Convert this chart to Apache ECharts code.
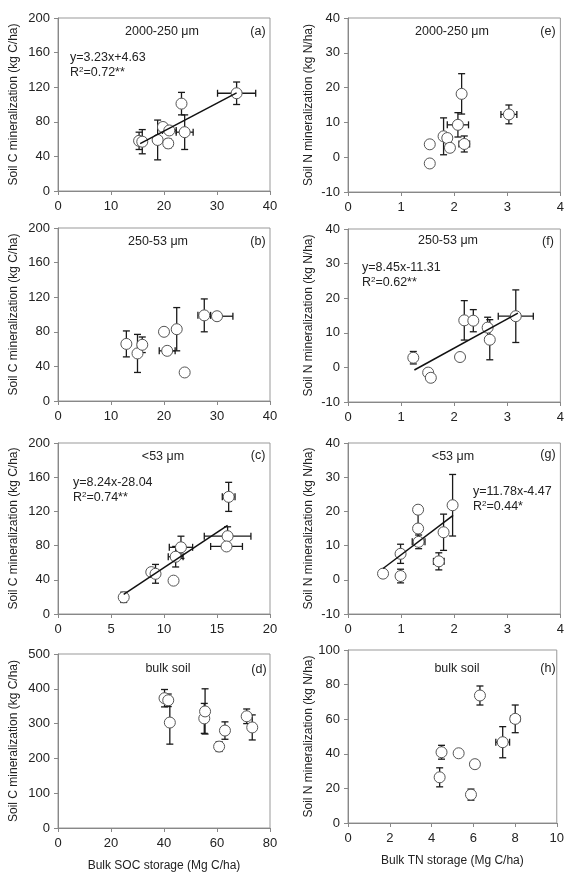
<!DOCTYPE html>
<html>
<head>
<meta charset="utf-8">
<script src="https://cdn.jsdelivr.net/npm/echarts@6/dist/echarts.min.js"></script>
<style>
  html, body { margin: 0; padding: 0; background: #fff; }
  #chart { width: 567px; height: 877px; }
</style>
</head>
<body>
<div id="chart"></div>
<script>
// ---- data: [x], [y], [x error], [y error] ----
// (a) 2000-250 um, SOC
const aX = [15.3, 15.9, 18.8, 19.8, 20.8, 21.0, 23.3, 23.9, 33.7];
const aY = [58, 57, 59, 74, 55, 70, 101, 68, 113];
const aXErr = [0, 0, 0, 0, 0.8, 1.3, 0, 1.6, 3.6];
const aYErr = [10, 14, 23, 0, 5, 4, 13, 20, 13];
const aFit = [[15.5, 54.7], [33.7, 113.5]];

// (b) 250-53 um, SOC
const bX = [12.9, 15.0, 15.9, 20.0, 20.6, 22.4, 23.9, 27.6, 30.0];
const bY = [66, 55, 65, 80, 58, 83, 33, 99, 98];
const bXErr = [0, 0, 0.5, 0, 1.5, 0, 0, 1.2, 3.0];
const bYErr = [15, 22, 9, 0, 0, 25, 0, 19, 0];

// (c) <53 um, SOC
const cX = [6.2, 8.8, 9.2, 10.9, 11.1, 11.6, 16.0, 15.9, 16.1];
const cY = [19.5, 49, 47, 39, 67, 78, 91, 79, 137];
const cXErr = [0.3, 0, 0, 0, 0.7, 1.1, 2.2, 1.5, 0.6];
const cYErr = [6, 0, 11, 0, 12, 13, 11, 0, 17];
const cFit = [[6.2, 23.0], [16.0, 103.8]];

// (d) bulk soil, SOC
const dX = [40.2, 41.6, 42.2, 55.2, 55.5, 60.8, 63.0, 71.2, 73.3];
const dY = [373, 367, 303, 315, 335, 234, 280, 321, 289];
const dXErr = [0, 1.3, 0, 0, 0, 0, 0, 0, 0];
const dYErr = [25, 18, 62, 43, 65, 14, 25, 21, 36];

// (e) 2000-250 um, TN
const eX = [1.54, 1.54, 1.80, 1.87, 1.92, 2.07, 2.14, 2.19, 3.03];
const eY = [3.7, -1.8, 6.0, 5.5, 2.7, 9.3, 18.2, 3.8, 12.3];
const eXErr = [0, 0, 0, 0, 0.05, 0.2, 0.05, 0.1, 0.15];
const eYErr = [0, 0, 5.3, 0, 0, 3.5, 5.8, 2.3, 2.7];

// (f) 250-53 um, TN
const fX = [1.23, 1.51, 1.56, 2.11, 2.19, 2.36, 2.63, 2.67, 3.16];
const fY = [2.8, -1.5, -3.0, 3.0, 13.6, 13.5, 11.5, 8.0, 14.8];
const fXErr = [0, 0, 0, 0, 0.05, 0, 0, 0, 0.33];
const fYErr = [1.8, 0, 0, 0, 5.7, 3.2, 3.0, 5.8, 7.6];
const fFit = [[1.25, -0.75], [3.2, 15.7]];

// (g) <53 um, TN
const gX = [0.66, 0.99, 0.99, 1.32, 1.32, 1.33, 1.71, 1.80, 1.97];
const gY = [1.8, 1.1, 7.6, 20.5, 15.0, 11.1, 5.4, 13.9, 21.8];
const gXErr = [0, 0, 0, 0, 0, 0.12, 0.1, 0, 0.03];
const gYErr = [0, 2.0, 2.8, 0, 5, 2, 2.5, 5.3, 9];
const gFit = [[0.66, 3.3], [1.98, 18.85]];

// (h) bulk soil, TN
const hX = [4.39, 4.48, 5.30, 5.89, 6.08, 6.32, 7.41, 8.01];
const hY = [26.4, 40.9, 40.3, 16.4, 34.0, 73.7, 46.7, 60.2];
const hXErr = [0, 0, 0.1, 0, 0, 0, 0.33, 0.22];
const hYErr = [5.5, 4, 0, 3.2, 0, 5.5, 9, 8];

// axis ranges [min, max, interval]
const xRanges = [[0, 40, 10], [0, 40, 10], [0, 20, 5], [0, 80, 20], [0, 4, 1], [0, 4, 1], [0, 4, 1], [0, 10, 2]];
const yRanges = [[0, 200, 40], [0, 200, 40], [0, 200, 40], [0, 500, 100], [-10, 40, 10], [-10, 40, 10], [-10, 40, 10], [0, 100, 20]];

const panelLetters = ["(a)", "(b)", "(c)", "(d)", "(e)", "(f)", "(g)", "(h)"];
const fractionNames = ["2000-250 \u03bcm", "250-53 \u03bcm", "<53 \u03bcm", "bulk soil",
                       "2000-250 \u03bcm", "250-53 \u03bcm", "<53 \u03bcm", "bulk soil"];
const equations = [["y=3.23x+4.63", "0.72**"], null, ["y=8.24x-28.04", "0.74**"], null,
                   null, ["y=8.45x-11.31", "0.62**"], ["y=11.78x-4.47", "0.44*"], null];

const yTitleC = "Soil C mineralization (kg C/ha)";
const yTitleN = "Soil N mineralization (kg N/ha)";
const xTitleC = "Bulk SOC storage (Mg C/ha)";
const xTitleN = "Bulk TN storage (Mg C/ha)";

const panels = [
  [aX, aY, aXErr, aYErr, aFit],
  [bX, bY, bXErr, bYErr, null],
  [cX, cY, cXErr, cYErr, cFit],
  [dX, dY, dXErr, dYErr, null],
  [eX, eY, eXErr, eYErr, null],
  [fX, fY, fXErr, fYErr, fFit],
  [gX, gY, gXErr, gYErr, gFit],
  [hX, hY, hXErr, hYErr, null]
];

// ---- layout ----
const FONT = "'Liberation Sans', Arial, sans-serif";
const TXT = "#222";
const grids = [
  { left: 58, top: 18, width: 212, height: 173 },
  { left: 58, top: 228, width: 212, height: 173 },
  { left: 58, top: 443, width: 212, height: 171 },
  { left: 58, top: 654, width: 212, height: 174 },
  { left: 348, top: 18, width: 214, height: 174 },
  { left: 348, top: 229, width: 214, height: 173 },
  { left: 348, top: 443, width: 214, height: 171 },
  { left: 348, top: 650, width: 214, height: 173 }
];
// label anchor points per panel: fraction name, letter, equation (left, top line y)
const namePos = [[162, 32], [158, 242], [163, 457], [168, 669], [452, 32], [448, 241], [453, 457], [457, 669]];
const letterPos = [[258, 32], [258, 242], [258, 456], [259, 670], [548, 32], [548, 242], [548, 455], [548, 669]];
const eqPos = [[70, 58], null, [73, 483], null, null, [362, 268], [473, 492], null];

const chart = echarts.init(document.getElementById("chart"));

function errorBars(params, api) {
  const x = api.value(0), y = api.value(1), ex = api.value(2), ey = api.value(3);
  const style = { stroke: "#1a1a1a", lineWidth: 1.3 };
  const cap = 3.5;
  const kids = [];
  const seg = (x1, y1, x2, y2) => kids.push({ type: "line", shape: { x1, y1, x2, y2 }, style });
  if (ey > 0) {
    const lo = api.coord([x, y - ey]), hi = api.coord([x, y + ey]);
    seg(lo[0], lo[1], hi[0], hi[1]);
    seg(lo[0] - cap, lo[1], lo[0] + cap, lo[1]);
    seg(hi[0] - cap, hi[1], hi[0] + cap, hi[1]);
  }
  if (ex > 0) {
    const l = api.coord([x - ex, y]), r = api.coord([x + ex, y]);
    seg(l[0], l[1], r[0], r[1]);
    seg(l[0], l[1] - cap, l[0], l[1] + cap);
    seg(r[0], r[1] - cap, r[0], r[1] + cap);
  }
  return { type: "group", children: kids };
}

const xAxis = [], yAxis = [], series = [], graphic = [];

panels.forEach((p, i) => {
  const [xs, ys, xe, ye, fit] = p;
  const isBottom = i === 3 || i === 7;
  const isLeft = i < 4;
  xAxis.push({
    type: "value", gridIndex: i,
    min: xRanges[i][0], max: xRanges[i][1], interval: xRanges[i][2],
    name: isBottom ? (isLeft ? xTitleC : xTitleN) : "",
    nameLocation: "middle", nameGap: 32,
    nameTextStyle: { fontFamily: FONT, fontSize: 12, color: TXT },
    axisLine: { onZero: false, lineStyle: { color: "#888" } },
    axisTick: { show: true, length: 4, lineStyle: { color: "#888" } },
    axisLabel: { fontFamily: FONT, fontSize: 13, color: TXT, margin: 9 },
    splitLine: { show: false }
  });
  yAxis.push({
    type: "value", gridIndex: i,
    min: yRanges[i][0], max: yRanges[i][1], interval: yRanges[i][2],
    name: isLeft ? yTitleC : yTitleN,
    nameLocation: "middle", nameGap: isLeft ? 38 : 33,
    nameTextStyle: { fontFamily: FONT, fontSize: 12, color: TXT },
    axisLine: { show: true, lineStyle: { color: "#888" } },
    axisTick: { show: true, length: 4, lineStyle: { color: "#888" } },
    axisLabel: { fontFamily: FONT, fontSize: 13, color: TXT, margin: 8 },
    splitLine: { show: false }
  });

  const pts = xs.map((x, k) => [x, ys[k], xe[k], ye[k]]);
  series.push({
    type: "custom", xAxisIndex: i, yAxisIndex: i,
    renderItem: errorBars, data: pts, encode: { x: 0, y: 1 }, z: 2, silent: true
  });
  series.push({
    type: "scatter", xAxisIndex: i, yAxisIndex: i,
    data: pts.map(d => [d[0], d[1]]),
    symbol: "circle", symbolSize: 11,
    itemStyle: { color: "#fff", borderColor: "#555", borderWidth: 1, opacity: 1 },
    z: 3, silent: true
  });
  if (fit) {
    series.push({
      type: "line", xAxisIndex: i, yAxisIndex: i, data: fit,
      symbol: "none", lineStyle: { color: "#111", width: 1.5 }, z: 4, silent: true
    });
  }

  const txtStyle = (t, align) => ({ text: t, fill: TXT, font: "12.5px " + FONT, align: align, verticalAlign: "middle" });
  graphic.push({ type: "text", x: namePos[i][0], y: namePos[i][1], style: txtStyle(fractionNames[i], "center") });
  graphic.push({ type: "text", x: letterPos[i][0], y: letterPos[i][1], style: txtStyle(panelLetters[i], "center") });
  if (equations[i]) {
    graphic.push({ type: "text", x: eqPos[i][0], y: eqPos[i][1], style: txtStyle(equations[i][0], "left") });
    graphic.push({
      type: "text", x: eqPos[i][0], y: eqPos[i][1] + 15,
      style: {
        text: "R{s|2}=" + equations[i][1], fill: TXT, font: "12.5px " + FONT,
        align: "left", verticalAlign: "middle",
        rich: { s: { fontSize: 8, fontFamily: FONT, fill: TXT, verticalAlign: "top", lineHeight: 14 } }
      }
    });
  }
});

chart.setOption({
  backgroundColor: "#fff",
  animation: false,
  grid: grids.map(g => Object.assign({ show: true, borderColor: "#999", borderWidth: 1, backgroundColor: "transparent" }, g)),
  xAxis: xAxis,
  yAxis: yAxis,
  series: series,
  graphic: graphic
});
</script>
</body>
</html>
